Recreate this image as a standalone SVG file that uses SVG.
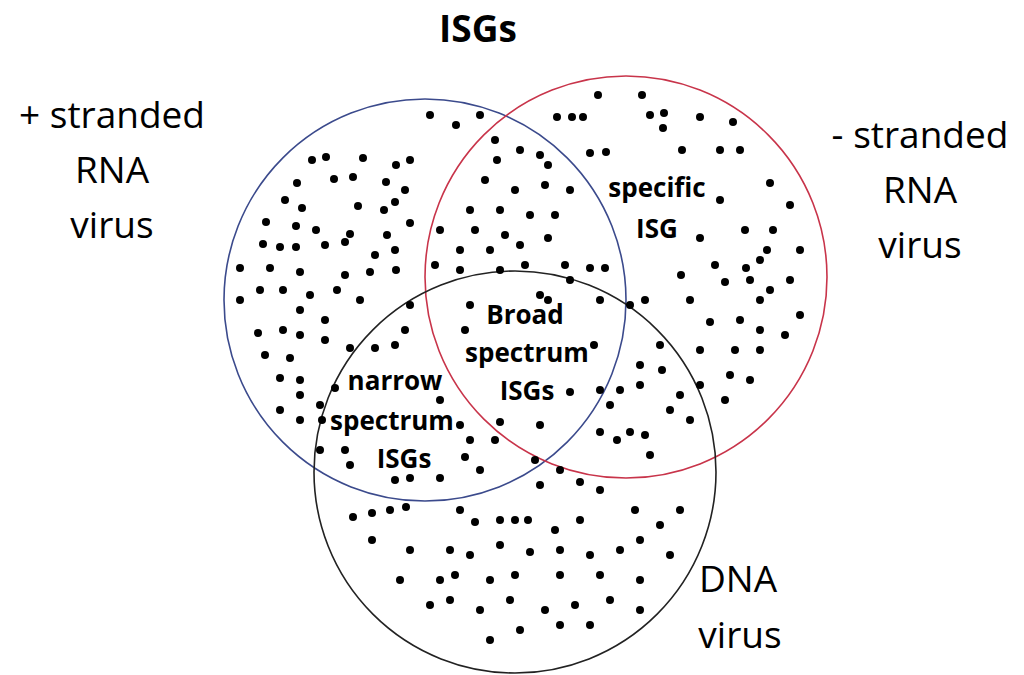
<svg xmlns="http://www.w3.org/2000/svg" width="1024" height="675" viewBox="0 0 1024 675">
<style>
.c{fill:none;stroke-width:1.6}
.d circle{fill:#000}
.lab{font-family:"Open Sans","Liberation Sans",sans-serif;font-size:37px;text-anchor:middle;fill:#000}
.in{font-family:"Open Sans","Liberation Sans",sans-serif;font-size:26px;font-weight:bold;text-anchor:middle;fill:#000}
</style>
<rect width="1024" height="675" fill="#fff"/>
<g id="sets">
<circle id="plus-rna" class="c" cx="425" cy="300" r="201" stroke="#3b4a8c"/>
<circle id="minus-rna" class="c" cx="626" cy="277" r="201" stroke="#c8344a"/>
<circle id="dna" class="c" cx="515" cy="472" r="201" stroke="#222"/>
</g>
<g class="d" id="dots">
<circle cx="430" cy="115" r="4"/><circle cx="456" cy="125" r="4"/><circle cx="480" cy="115" r="4"/><circle cx="326" cy="157" r="4"/><circle cx="312" cy="160" r="4"/><circle cx="363" cy="158" r="4"/><circle cx="396" cy="165" r="4"/><circle cx="410" cy="160" r="4"/><circle cx="297" cy="183" r="4"/><circle cx="334" cy="179" r="4"/><circle cx="353" cy="177" r="4"/><circle cx="386" cy="182" r="4"/><circle cx="405" cy="190" r="4"/><circle cx="285" cy="200" r="4"/><circle cx="302" cy="208" r="4"/><circle cx="358" cy="206" r="4"/><circle cx="384" cy="210" r="4"/><circle cx="395" cy="202" r="4"/><circle cx="266" cy="222" r="4"/><circle cx="296" cy="226" r="4"/><circle cx="316" cy="230" r="4"/><circle cx="350" cy="234" r="4"/><circle cx="387" cy="235" r="4"/><circle cx="410" cy="223" r="4"/><circle cx="263" cy="244" r="4"/><circle cx="280" cy="247" r="4"/><circle cx="296" cy="247" r="4"/><circle cx="325" cy="245" r="4"/><circle cx="345" cy="242" r="4"/><circle cx="375" cy="255" r="4"/><circle cx="395" cy="250" r="4"/><circle cx="240" cy="268" r="4"/><circle cx="270" cy="268" r="4"/><circle cx="300" cy="272" r="4"/><circle cx="345" cy="275" r="4"/><circle cx="370" cy="272" r="4"/><circle cx="396" cy="270" r="4"/><circle cx="260" cy="290" r="4"/><circle cx="283" cy="290" r="4"/><circle cx="310" cy="295" r="4"/><circle cx="337" cy="290" r="4"/><circle cx="360" cy="300" r="4"/><circle cx="240" cy="300" r="4"/><circle cx="300" cy="310" r="4"/><circle cx="325" cy="320" r="4"/><circle cx="410" cy="305" r="4"/><circle cx="258" cy="333" r="4"/><circle cx="283" cy="330" r="4"/><circle cx="300" cy="335" r="4"/><circle cx="325" cy="340" r="4"/><circle cx="405" cy="330" r="4"/><circle cx="265" cy="355" r="4"/><circle cx="290" cy="358" r="4"/><circle cx="350" cy="348" r="4"/><circle cx="375" cy="348" r="4"/><circle cx="395" cy="345" r="4"/><circle cx="280" cy="378" r="4"/><circle cx="300" cy="380" r="4"/><circle cx="335" cy="388" r="4"/><circle cx="300" cy="395" r="4"/><circle cx="280" cy="410" r="4"/><circle cx="300" cy="420" r="4"/><circle cx="320" cy="405" r="4"/>
<circle cx="495" cy="140" r="4"/><circle cx="520" cy="150" r="4"/><circle cx="540" cy="155" r="4"/><circle cx="497" cy="160" r="4"/><circle cx="548" cy="165" r="4"/><circle cx="485" cy="180" r="4"/><circle cx="515" cy="190" r="4"/><circle cx="545" cy="185" r="4"/><circle cx="570" cy="190" r="4"/><circle cx="470" cy="210" r="4"/><circle cx="500" cy="210" r="4"/><circle cx="530" cy="215" r="4"/><circle cx="555" cy="215" r="4"/><circle cx="440" cy="230" r="4"/><circle cx="475" cy="230" r="4"/><circle cx="505" cy="235" r="4"/><circle cx="460" cy="250" r="4"/><circle cx="490" cy="250" r="4"/><circle cx="520" cy="245" r="4"/><circle cx="548" cy="238" r="4"/><circle cx="435" cy="265" r="4"/><circle cx="460" cy="270" r="4"/><circle cx="500" cy="270" r="4"/><circle cx="525" cy="265" r="4"/><circle cx="565" cy="265" r="4"/><circle cx="590" cy="268" r="4"/><circle cx="605" cy="268" r="4"/><circle cx="570" cy="280" r="4"/><circle cx="540" cy="295" r="4"/>
<circle cx="598" cy="95" r="4"/><circle cx="642" cy="95" r="4"/><circle cx="557" cy="117" r="4"/><circle cx="572" cy="117" r="4"/><circle cx="583" cy="117" r="4"/><circle cx="650" cy="115" r="4"/><circle cx="664" cy="113" r="4"/><circle cx="700" cy="117" r="4"/><circle cx="733" cy="122" r="4"/><circle cx="663" cy="128" r="4"/><circle cx="606" cy="152" r="4"/><circle cx="590" cy="153" r="4"/><circle cx="682" cy="150" r="4"/><circle cx="720" cy="150" r="4"/><circle cx="740" cy="150" r="4"/><circle cx="770" cy="183" r="4"/><circle cx="720" cy="200" r="4"/><circle cx="790" cy="205" r="4"/><circle cx="745" cy="230" r="4"/><circle cx="773" cy="230" r="4"/><circle cx="700" cy="238" r="4"/><circle cx="767" cy="250" r="4"/><circle cx="800" cy="250" r="4"/><circle cx="760" cy="260" r="4"/><circle cx="715" cy="265" r="4"/><circle cx="746" cy="268" r="4"/><circle cx="681" cy="275" r="4"/><circle cx="725" cy="282" r="4"/><circle cx="750" cy="280" r="4"/><circle cx="770" cy="290" r="4"/><circle cx="790" cy="280" r="4"/><circle cx="760" cy="300" r="4"/><circle cx="690" cy="300" r="4"/><circle cx="645" cy="300" r="4"/><circle cx="630" cy="305" r="4"/><circle cx="710" cy="322" r="4"/><circle cx="740" cy="320" r="4"/><circle cx="800" cy="315" r="4"/><circle cx="760" cy="330" r="4"/><circle cx="785" cy="335" r="4"/><circle cx="700" cy="350" r="4"/><circle cx="735" cy="350" r="4"/><circle cx="760" cy="350" r="4"/><circle cx="730" cy="375" r="4"/><circle cx="750" cy="380" r="4"/><circle cx="700" cy="385" r="4"/><circle cx="725" cy="400" r="4"/><circle cx="680" cy="395" r="4"/>
<circle cx="660" cy="345" r="4"/><circle cx="640" cy="365" r="4"/><circle cx="662" cy="370" r="4"/><circle cx="600" cy="390" r="4"/><circle cx="620" cy="390" r="4"/><circle cx="640" cy="385" r="4"/><circle cx="670" cy="410" r="4"/><circle cx="690" cy="420" r="4"/><circle cx="610" cy="405" r="4"/><circle cx="630" cy="432" r="4"/><circle cx="600" cy="432" r="4"/><circle cx="645" cy="435" r="4"/><circle cx="617" cy="440" r="4"/>
<circle cx="470" cy="305" r="4"/><circle cx="465" cy="330" r="4"/><circle cx="548" cy="300" r="4"/><circle cx="594" cy="345" r="4"/><circle cx="570" cy="392" r="4"/><circle cx="540" cy="425" r="4"/><circle cx="500" cy="422" r="4"/><circle cx="600" cy="300" r="4"/>
<circle cx="320" cy="450" r="4"/><circle cx="345" cy="450" r="4"/><circle cx="350" cy="465" r="4"/><circle cx="322" cy="420" r="4"/><circle cx="440" cy="400" r="4"/><circle cx="460" cy="425" r="4"/><circle cx="470" cy="440" r="4"/><circle cx="480" cy="470" r="4"/><circle cx="410" cy="478" r="4"/><circle cx="395" cy="480" r="4"/><circle cx="465" cy="457" r="4"/><circle cx="495" cy="440" r="4"/><circle cx="440" cy="478" r="4"/>
<circle cx="540" cy="485" r="4"/><circle cx="580" cy="482" r="4"/><circle cx="560" cy="470" r="4"/><circle cx="600" cy="490" r="4"/><circle cx="650" cy="455" r="4"/><circle cx="535" cy="460" r="4"/><circle cx="353" cy="517" r="4"/><circle cx="372" cy="513" r="4"/><circle cx="390" cy="510" r="4"/><circle cx="406" cy="507" r="4"/><circle cx="372" cy="540" r="4"/><circle cx="410" cy="550" r="4"/><circle cx="460" cy="510" r="4"/><circle cx="475" cy="522" r="4"/><circle cx="500" cy="520" r="4"/><circle cx="515" cy="520" r="4"/><circle cx="528" cy="520" r="4"/><circle cx="555" cy="530" r="4"/><circle cx="580" cy="520" r="4"/><circle cx="635" cy="510" r="4"/><circle cx="660" cy="525" r="4"/><circle cx="680" cy="510" r="4"/><circle cx="450" cy="550" r="4"/><circle cx="470" cy="555" r="4"/><circle cx="500" cy="545" r="4"/><circle cx="530" cy="552" r="4"/><circle cx="560" cy="550" r="4"/><circle cx="590" cy="555" r="4"/><circle cx="620" cy="550" r="4"/><circle cx="640" cy="540" r="4"/><circle cx="670" cy="555" r="4"/><circle cx="455" cy="575" r="4"/><circle cx="490" cy="580" r="4"/><circle cx="515" cy="575" r="4"/><circle cx="560" cy="575" r="4"/><circle cx="600" cy="575" r="4"/><circle cx="640" cy="580" r="4"/><circle cx="430" cy="605" r="4"/><circle cx="450" cy="600" r="4"/><circle cx="480" cy="610" r="4"/><circle cx="510" cy="600" r="4"/><circle cx="545" cy="610" r="4"/><circle cx="575" cy="605" r="4"/><circle cx="610" cy="600" r="4"/><circle cx="640" cy="610" r="4"/><circle cx="440" cy="580" r="4"/><circle cx="520" cy="630" r="4"/><circle cx="560" cy="625" r="4"/><circle cx="590" cy="625" r="4"/><circle cx="490" cy="640" r="4"/><circle cx="400" cy="580" r="4"/>
</g>
<g id="labels">
<text class="lab" x="478" y="42" font-weight="bold">ISGs</text>
<text class="lab" x="112" y="128">+ stranded</text>
<text class="lab" x="112" y="183">RNA</text>
<text class="lab" x="112" y="238">virus</text>
<text class="lab" x="920" y="148">- stranded</text>
<text class="lab" x="920" y="203">RNA</text>
<text class="lab" x="920" y="258">virus</text>
<text class="lab" x="738" y="592">DNA</text>
<text class="lab" x="740" y="648">virus</text>
<text class="in" x="657" y="197">specific</text>
<text class="in" x="657" y="238">ISG</text>
<text class="in" x="525" y="324">Broad</text>
<text class="in" x="527" y="362">spectrum</text>
<text class="in" x="527" y="400">ISGs</text>
<text class="in" x="395" y="390">narrow</text>
<text class="in" x="392" y="430">spectrum</text>
<text class="in" x="404" y="468">ISGs</text>
</g>
</svg>
